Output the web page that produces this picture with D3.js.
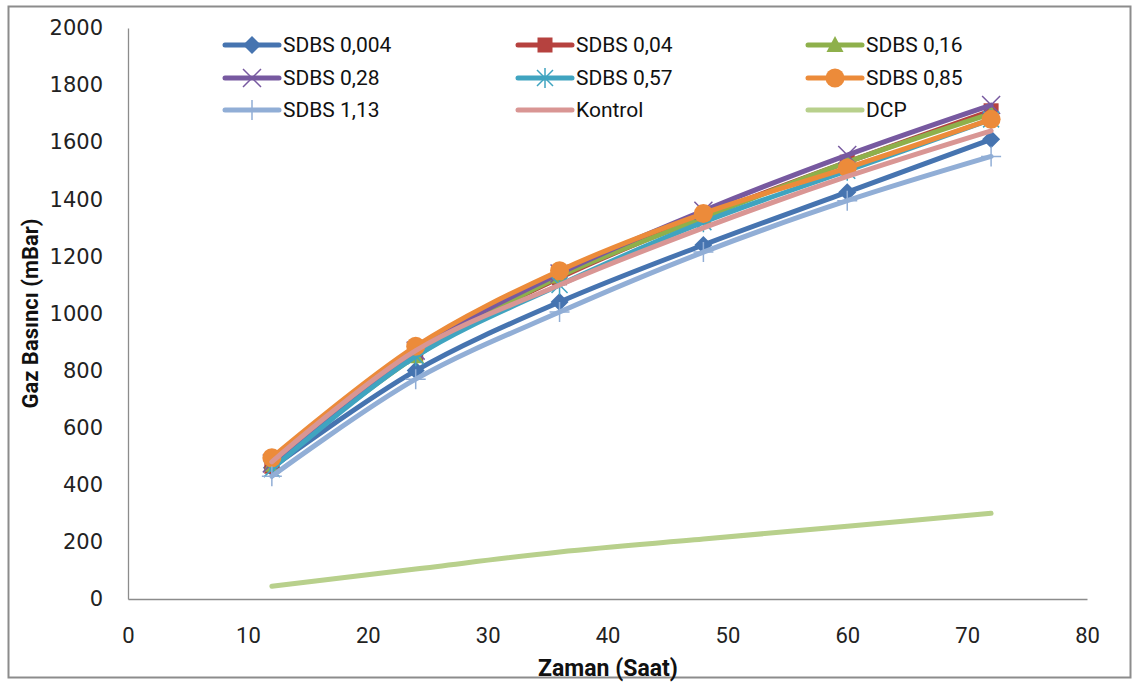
<!DOCTYPE html>
<html>
<head>
<meta charset="utf-8">
<script src="https://cdn.jsdelivr.net/npm/d3@7"></script>
<style>
  html, body { margin: 0; padding: 0; background: #fff; }
  svg { display: block; }
</style>
</head>
<body>
<svg id="chart" width="1139" height="687"></svg>
<script>
// Sampling times (hours)
const hours = [12, 24, 36, 48, 60, 72];

// Gas pressure (mBar) per treatment
const sdbs0004 = [460, 800, 1040, 1240, 1425, 1610];
const sdbs004  = [465, 860, 1125, 1340, 1530, 1710];
const sdbs016  = [470, 850, 1130, 1335, 1530, 1700];
const sdbs028  = [475, 870, 1140, 1360, 1555, 1730];
const sdbs057  = [455, 850, 1100, 1320, 1500, 1680];
const sdbs085  = [495, 885, 1150, 1350, 1510, 1680];
const sdbs113  = [430, 770, 1005, 1215, 1395, 1550];
const kontrol  = [480, 870, 1100, 1300, 1480, 1640];
const dcp      = [45, 105, 165, 210, 255, 300];

const seriesNames = ["SDBS 0,004", "SDBS 0,04", "SDBS 0,16", "SDBS 0,28", "SDBS 0,57", "SDBS 0,85", "SDBS 1,13", "Kontrol", "DCP"];
const xTicks = [0, 10, 20, 30, 40, 50, 60, 70, 80];
const yTicks = [0, 200, 400, 600, 800, 1000, 1200, 1400, 1600, 1800, 2000];

const series = [
  { name: seriesNames[0], values: sdbs0004, color: "#4674B0", marker: "diamond" },
  { name: seriesNames[1], values: sdbs004,  color: "#B6423F", marker: "square" },
  { name: seriesNames[2], values: sdbs016,  color: "#8EB04B", marker: "triangle" },
  { name: seriesNames[3], values: sdbs028,  color: "#7759A0", marker: "x" },
  { name: seriesNames[4], values: sdbs057,  color: "#40A4C0", marker: "star" },
  { name: seriesNames[5], values: sdbs085,  color: "#EC8B3A", marker: "circle" },
  { name: seriesNames[6], values: sdbs113,  color: "#91AED6", marker: "plus" },
  { name: seriesNames[7], values: kontrol,  color: "#D99694", marker: null },
  { name: seriesNames[8], values: dcp,      color: "#B8D08C", marker: null }
];

(function () {
  const svg = d3.select("#chart");
  const narrowFont = "'Roboto', 'Liberation Sans', sans-serif";

  // Outer chart frame
  svg.append("rect")
    .attr("x", 8.5).attr("y", 6.5)
    .attr("width", 1122).attr("height", 671)
    .attr("fill", "#fff").attr("stroke", "#8c8c8c").attr("stroke-width", 2);

  const plotLeft = 128, plotRight = 1087, plotTop = 28, plotBottom = 599;

  const x = d3.scaleLinear().domain([0, 80]).range([plotLeft, plotRight]);
  const y = d3.scaleLinear().domain([0, 2000]).range([plotBottom, plotTop]);

  // Axes
  const yAxis = d3.axisLeft(y).tickValues(yTicks).tickFormat(d3.format("d")).tickSize(0).tickPadding(25);
  const gy = svg.append("g").attr("transform", `translate(${plotLeft},0)`).call(yAxis);
  gy.select(".domain").attr("stroke", "#8c8c8c").attr("stroke-width", 1.3);
  gy.selectAll("text")
    .attr("font-family", "'DejaVu Sans', sans-serif")
    .attr("font-size", 21).attr("fill", "#222");

  const xAxis = d3.axisBottom(x).tickValues(xTicks).tickFormat(d3.format("d")).tickSize(0).tickPadding(28);
  const gx = svg.append("g").attr("transform", `translate(0,${plotBottom})`).call(xAxis);
  gx.select(".domain").attr("stroke", "#8c8c8c").attr("stroke-width", 1.3);
  gx.selectAll("text")
    .attr("font-family", narrowFont)
    .attr("font-size", 22).attr("fill", "#222");

  // Axis titles
  svg.append("text")
    .attr("transform", `translate(38,${(plotTop + plotBottom) / 2}) rotate(-90)`)
    .attr("text-anchor", "middle")
    .attr("font-family", narrowFont)
    .attr("font-weight", "bold").attr("font-size", 22).attr("fill", "#111")
    .text("Gaz Basıncı (mBar)");

  svg.append("text")
    .attr("x", 608).attr("y", 676)
    .attr("text-anchor", "middle")
    .attr("font-family", narrowFont)
    .attr("font-weight", "bold").attr("font-size", 23).attr("fill", "#111")
    .text("Zaman (Saat)");

  // Marker drawing
  function drawMarker(g, type, cx, cy, color) {
    const m = g.append("g").attr("transform", `translate(${cx},${cy})`);
    switch (type) {
      case "diamond":
        m.append("path").attr("d", "M0,-9L9,0L0,9L-9,0Z").attr("fill", color);
        break;
      case "square":
        m.append("rect").attr("x", -7.5).attr("y", -7.5).attr("width", 15).attr("height", 15).attr("fill", color);
        break;
      case "triangle":
        m.append("path").attr("d", "M0,-9L8.5,7L-8.5,7Z").attr("fill", color);
        break;
      case "x":
        m.append("path").attr("d", "M-9,-9L9,9M-9,9L9,-9").attr("stroke", color).attr("stroke-width", 1.5).attr("fill", "none");
        break;
      case "star":
        m.append("path").attr("d", "M-8,-8L8,8M-8,8L8,-8M0,-10L0,10").attr("stroke", color).attr("stroke-width", 1.5).attr("fill", "none");
        break;
      case "circle":
        m.append("circle").attr("r", 9.5).attr("fill", color);
        break;
      case "plus":
        m.append("path").attr("d", "M-10,0L10,0M0,-10L0,10").attr("stroke", color).attr("stroke-width", 1.5).attr("fill", "none");
        break;
    }
  }

  const line = d3.line()
    .x((d, i) => x(hours[i]))
    .y(d => y(d))
    .curve(d3.curveCatmullRom.alpha(0.5));

  const plot = svg.append("g");
  series.forEach(s => {
    const g = plot.append("g");
    g.append("path")
      .attr("d", line(s.values))
      .attr("fill", "none")
      .attr("stroke", s.color)
      .attr("stroke-width", 5)
      .attr("stroke-linejoin", "round")
      .attr("stroke-linecap", "round");
    if (s.marker) {
      s.values.forEach((v, i) => drawMarker(g, s.marker, x(hours[i]), y(v), s.color));
    }
  });

  // Legend, three columns
  const legCols = [225, 518, 808];
  const legRows = [45, 78, 110];
  const legend = svg.append("g");
  series.forEach((s, i) => {
    const lx = legCols[i % 3], ly = legRows[Math.floor(i / 3)];
    const g = legend.append("g");
    g.append("line")
      .attr("x1", lx).attr("x2", lx + 54).attr("y1", ly).attr("y2", ly)
      .attr("stroke", s.color).attr("stroke-width", 5).attr("stroke-linecap", "round");
    if (s.marker) drawMarker(g, s.marker, lx + 27, ly, s.color);
    g.append("text")
      .attr("x", lx + 58).attr("y", ly)
      .attr("dy", "0.35em")
      .attr("font-family", narrowFont)
      .attr("font-size", 21).attr("fill", "#111")
      .text(s.name);
  });
})();
</script>
</body>
</html>
